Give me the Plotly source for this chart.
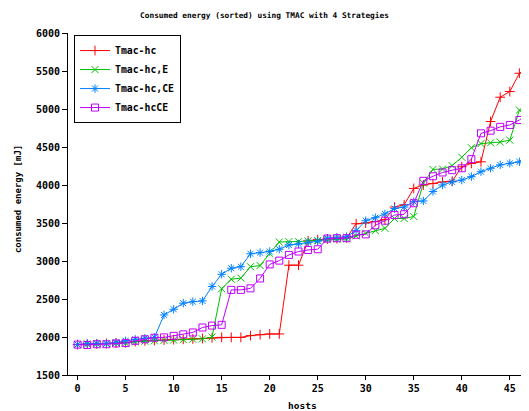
import plotly.graph_objects as go

hosts = list(range(48))

tmac_hc = [1900, 1905, 1910, 1915, 1920, 1925, 1940, 1950, 1955, 1960, 1965, 1970, 1975, 1980, 1990,
           1995, 1995, 1995, 2018, 2030, 2040, 2040, 2945, 2945, 3265, 3280, 3290, 3295, 3305, 3490,
           3500, 3520, 3545, 3710, 3740, 3955, 4000, 4020, 4040, 4050, 4240, 4285, 4305, 4835, 5155,
           5230, 5470, 5540]
tmac_hc_e = [1900, 1905, 1910, 1910, 1920, 1920, 1935, 1945, 1950, 1955, 1960, 1965, 1970, 1975, 2000,
             2635, 2760, 2775, 2925, 2940, 3100, 3250, 3255, 3255, 3265, 3270, 3280, 3285, 3290, 3330,
             3365, 3400, 3430, 3560, 3560, 3585, 4025, 4205, 4210, 4255, 4365, 4490, 4545, 4555, 4565,
             4590, 4985, 4980]
tmac_hc_ce = [1900, 1915, 1915, 1915, 1930, 1950, 1970, 1985, 1995, 2290, 2365, 2445, 2465, 2475, 2665,
              2825, 2905, 2925, 3095, 3110, 3125, 3155, 3210, 3225, 3245, 3260, 3300, 3310, 3320, 3400,
              3530, 3570, 3620, 3690, 3710, 3780, 3790, 3915, 4000, 4040, 4065, 4110, 4175, 4220, 4265,
              4285, 4305, 4425]
tmac_hcce = [1900, 1895, 1905, 1905, 1915, 1920, 1950, 1970, 1990, 1995, 2015, 2035, 2060, 2125, 2150,
             2160, 2620, 2620, 2640, 2770, 2955, 3005, 3080, 3125, 3145, 3155, 3295, 3300, 3300, 3345,
             3350, 3470, 3530, 3605, 3615, 3760, 4055, 4115, 4165, 4195, 4220, 4340, 4680, 4715, 4765,
             4790, 4855, 4950]

series = [
    ("Tmac-hc", tmac_hc, "#ff0000", "cross-thin-open"),
    ("Tmac-hc,E", tmac_hc_e, "#00c000", "x-thin-open"),
    ("Tmac-hc,CE", tmac_hc_ce, "#0080ff", "asterisk-open"),
    ("Tmac-hcCE", tmac_hcce, "#c000ff", "square-open"),
]

FONT = "DejaVu Sans Mono"

fig = go.Figure()
for name, vals, color, sym in series:
    fig.add_trace(go.Scatter(
        x=hosts, y=vals, name=name, mode="lines+markers",
        line=dict(color=color, width=1),
        marker=dict(symbol=sym, size=7, color=color, line=dict(color=color, width=1)),
        cliponaxis=False,
    ))

# The page body has an 8px margin, so the figure is 8px smaller and margins are shifted.
fig.update_layout(
    width=521, height=403,
    margin=dict(l=60, r=0, t=25, b=36, autoexpand=False),
    paper_bgcolor="white", plot_bgcolor="white",
    font=dict(family=FONT, size=10, color="black", weight="bold"),
    title=dict(text="Consumed energy (sorted) using TMAC with 4 Strategies",
               x=0.4923, xref="container", xanchor="center",
               y=0.983, yref="container", yanchor="middle",
               font=dict(family=FONT, size=7.8, weight="bold", color="black")),
    showlegend=True,
    legend=dict(x=0.013, y=0.994, xanchor="left", yanchor="top",
                bgcolor="white", bordercolor="black", borderwidth=1,
                font=dict(family=FONT, size=9.8, weight="bold"),
                tracegroupgap=0, itemwidth=30),
    annotations=[
        dict(text="hosts", xref="paper", yref="paper", x=0.508, y=-0.088,
             xanchor="center", yanchor="middle", showarrow=False,
             font=dict(family=FONT, size=9.5, weight="bold", color="black")),
        dict(text="consumed energy [mJ]", xref="paper", yref="paper", x=-0.108, y=0.515,
             xanchor="center", yanchor="middle", textangle=-90, showarrow=False,
             font=dict(family=FONT, size=9, weight="bold", color="black")),
    ],
)

fig.update_xaxes(range=[-1, 47], tickmode="linear", tick0=0, dtick=5,
                 showline=True, linecolor="black", linewidth=1,
                 ticks="outside", ticklen=4, tickcolor="black",
                 showgrid=False, zeroline=False, automargin=False)
fig.update_yaxes(range=[1500, 6000], tickmode="linear", tick0=1500, dtick=500,
                 showline=True, linecolor="black", linewidth=1,
                 ticks="outside", ticklen=5, tickcolor="black",
                 showgrid=False, zeroline=False, automargin=False)

fig.write_html("out.html")
